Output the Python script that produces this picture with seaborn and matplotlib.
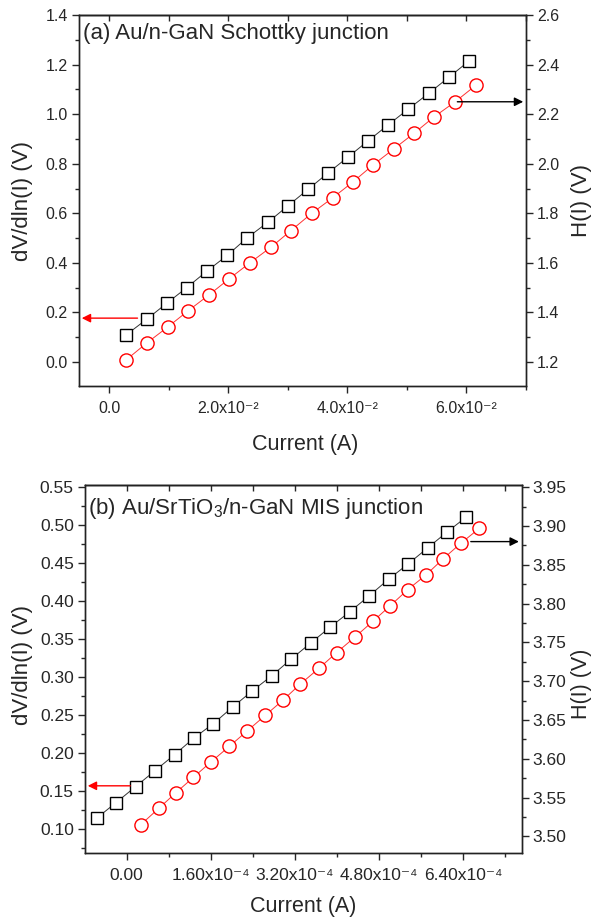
import matplotlib
matplotlib.use('Agg')
import matplotlib.pyplot as plt
from matplotlib.ticker import MultipleLocator
import seaborn as sns

# ---- dados: painel (a) Au/n-GaN Schottky ----
a_x_dv = [0.0028, 0.0063, 0.0097, 0.0130, 0.0164, 0.0198, 0.0231, 0.0267, 0.0300,
          0.0334, 0.0367, 0.0401, 0.0434, 0.0468, 0.0502, 0.0537, 0.0571, 0.0604]
a_dv = [0.109, 0.173, 0.238, 0.300, 0.367, 0.430, 0.500, 0.565, 0.630,
        0.697, 0.762, 0.827, 0.891, 0.956, 1.020, 1.085, 1.150, 1.214]
a_x_h = [0.0028, 0.0063, 0.0098, 0.0132, 0.0167, 0.0201, 0.0236, 0.0272, 0.0305,
         0.0340, 0.0375, 0.0409, 0.0443, 0.0478, 0.0512, 0.0545, 0.0581, 0.0616]
a_h = [1.208, 1.277, 1.341, 1.406, 1.470, 1.535, 1.600, 1.664, 1.730,
       1.800, 1.862, 1.926, 1.995, 2.060, 2.123, 2.188, 2.250, 2.317]
a_xticks = [0.0, 0.02, 0.04, 0.06]
a_xticklabels = ['0.0', '2.0x10⁻²', '4.0x10⁻²', '6.0x10⁻²']

# ---- dados: painel (b) Au/SrTiO3/n-GaN MIS ----
b_x_dv = [-0.57e-4, -0.20e-4, 0.17e-4, 0.54e-4, 0.91e-4, 1.28e-4, 1.65e-4, 2.02e-4, 2.39e-4, 2.76e-4,
          3.13e-4, 3.50e-4, 3.87e-4, 4.24e-4, 4.61e-4, 4.98e-4, 5.35e-4, 5.72e-4, 6.09e-4, 6.46e-4]
b_dv = [0.1145, 0.135, 0.156, 0.177, 0.198, 0.220, 0.239, 0.261, 0.282, 0.302,
        0.324, 0.345, 0.366, 0.386, 0.407, 0.429, 0.449, 0.470, 0.491, 0.511]
b_x_h = [0.266e-4, 0.608e-4, 0.932e-4, 1.266e-4, 1.603e-4, 1.951e-4, 2.293e-4, 2.635e-4, 2.978e-4, 3.295e-4,
         3.662e-4, 3.993e-4, 4.341e-4, 4.677e-4, 5.006e-4, 5.343e-4, 5.690e-4, 6.020e-4, 6.356e-4, 6.704e-4]
b_h = [3.515, 3.536, 3.556, 3.576, 3.596, 3.616, 3.636, 3.656, 3.676, 3.696,
       3.717, 3.737, 3.757, 3.777, 3.797, 3.818, 3.837, 3.858, 3.878, 3.897]
b_xticks = [0.0, 1.6e-4, 3.2e-4, 4.8e-4, 6.4e-4]
b_xticklabels = ['0.00', '1.60x10⁻⁴', '3.20x10⁻⁴', '4.80x10⁻⁴', '6.40x10⁻⁴']

sns.set_style('ticks')
plt.rcParams['font.family'] = ['Liberation Sans', 'DejaVu Sans']
plt.rcParams['mathtext.fontset'] = 'custom'
plt.rcParams['mathtext.rm'] = 'Liberation Sans'
plt.rcParams['mathtext.it'] = 'Liberation Sans:italic'
plt.rcParams['mathtext.default'] = 'regular'

fig = plt.figure(figsize=(5.93, 9.22), dpi=100)
ax_a = fig.add_axes([0.1332, 0.5813, 0.7538, 0.4024])
ax_b = fig.add_axes([0.1433, 0.0752, 0.7364, 0.3988])


def estilo(ax, ax2, tsize):
    for a in (ax, ax2):
        for s in a.spines.values():
            s.set_linewidth(1.0)
            s.set_color('#222222')
    ax.tick_params(axis='y', which='both', direction='out', left=True, right=False, labelsize=tsize, pad=3)
    ax.tick_params(axis='x', which='both', direction='out', bottom=True, top=False, labelsize=tsize, pad=6)
    ax.tick_params(which='major', length=5, width=1)
    ax.tick_params(which='minor', length=3, width=1)
    ax2.tick_params(axis='y', which='both', direction='out', right=True, labelsize=tsize, pad=3)
    ax2.tick_params(which='major', length=5, width=1)
    ax2.tick_params(which='minor', length=3, width=1)
    # ticks internos no topo
    sec = ax.secondary_xaxis('top')
    sec.set_xticks(ax.get_xticks())
    sec.xaxis.set_minor_locator(ax.xaxis.get_minor_locator())
    sec.tick_params(which='both', direction='in', length=4, width=1, labeltop=False)
    sec.spines['top'].set_linewidth(1.0)


def desenha(ax, x1, y1, x2, y2):
    ax2 = ax.twinx()
    sns.lineplot(x=x1, y=y1, ax=ax, color='#333333', lw=0.7, marker='s', markersize=8,
                 markerfacecolor='white', markeredgecolor='black', markeredgewidth=1.0)
    sns.lineplot(x=x2, y=y2, ax=ax2, color='#ff3333', lw=0.7, marker='o', markersize=9.5,
                 markerfacecolor='white', markeredgecolor='red', markeredgewidth=1.0)
    return ax2


# ----- painel (a) -----
ax_a2 = desenha(ax_a, a_x_dv, a_dv, a_x_h, a_h)
ax_a.set_xlim(-0.0051, 0.0700)
ax_a.set_ylim(-0.097, 1.40)
ax_a2.set_ylim(1.103, 2.60)
ax_a.set_xticks(a_xticks)
ax_a.set_xticklabels(a_xticklabels)
ax_a.xaxis.set_minor_locator(MultipleLocator(0.01))
ax_a.yaxis.set_major_locator(MultipleLocator(0.2))
ax_a.yaxis.set_minor_locator(MultipleLocator(0.1))
ax_a.yaxis.set_major_formatter(plt.FormatStrFormatter('%.1f'))
ax_a2.yaxis.set_major_locator(MultipleLocator(0.2))
ax_a2.yaxis.set_minor_locator(MultipleLocator(0.1))
ax_a2.yaxis.set_major_formatter(plt.FormatStrFormatter('%.1f'))
estilo(ax_a, ax_a2, 11.5)
ax_a.set_xlabel('Current (A)', fontsize=15.5)
ax_a.set_ylabel('dV/dln(I) (V)', fontsize=16)
ax_a2.set_ylabel('H(I) (V)', fontsize=16)
ax_a.xaxis.set_label_coords(0.506, -0.128)
ax_a.yaxis.set_label_coords(-0.103, 0.5)
ax_a2.yaxis.set_label_coords(1.100, 0.5)
ax_a.text(0.009, 0.949, '(a) Au/n-GaN Schottky junction', transform=ax_a.transAxes,
          fontsize=16, ha='left', va='center')
ax_a.annotate('', xy=(-0.0051, 0.177), xytext=(0.0052, 0.177),
              arrowprops=dict(arrowstyle='-|>', color='red', lw=1, mutation_scale=13))
ax_a2.annotate('', xy=(0.0700, 2.25), xytext=(0.0580, 2.25),
               arrowprops=dict(arrowstyle='-|>', color='black', lw=1, mutation_scale=13))

# ----- painel (b) -----
ax_b2 = desenha(ax_b, b_x_dv, b_dv, b_x_h, b_h)
ax_b.set_xlim(-0.793e-4, 7.51e-4)
ax_b.set_ylim(0.069, 0.553)
ax_b2.set_ylim(3.479, 3.953)
ax_b.set_xticks(b_xticks)
ax_b.set_xticklabels(b_xticklabels)
ax_b.xaxis.set_minor_locator(MultipleLocator(0.8e-4))
ax_b.yaxis.set_major_locator(MultipleLocator(0.05))
ax_b.yaxis.set_minor_locator(MultipleLocator(0.025))
ax_b.yaxis.set_major_formatter(plt.FormatStrFormatter('%.2f'))
ax_b2.yaxis.set_major_locator(MultipleLocator(0.05))
ax_b2.yaxis.set_minor_locator(MultipleLocator(0.025))
ax_b2.yaxis.set_major_formatter(plt.FormatStrFormatter('%.2f'))
estilo(ax_b, ax_b2, 12.5)
ax_b.set_xlabel('Current (A)', fontsize=15.5)
ax_b.set_ylabel('dV/dln(I) (V)', fontsize=16)
ax_b2.set_ylabel('H(I) (V)', fontsize=15.5)
ax_b.xaxis.set_label_coords(0.5, -0.118)
ax_b.yaxis.set_label_coords(-0.119, 0.51)
ax_b2.yaxis.set_label_coords(1.112, 0.46)
ax_b.text(0.008, 0.935, r'(b) Au/SrTiO$_3$/n-GaN MIS junction', transform=ax_b.transAxes,
          fontsize=16, ha='left', va='center')
ax_b.annotate('', xy=(-0.793e-4, 0.157), xytext=(0.12e-4, 0.157),
              arrowprops=dict(arrowstyle='-|>', color='red', lw=1, mutation_scale=13))
ax_b2.annotate('', xy=(7.51e-4, 3.88), xytext=(6.49e-4, 3.88),
               arrowprops=dict(arrowstyle='-|>', color='black', lw=1, mutation_scale=13))

fig.savefig('out.png', dpi=100)
